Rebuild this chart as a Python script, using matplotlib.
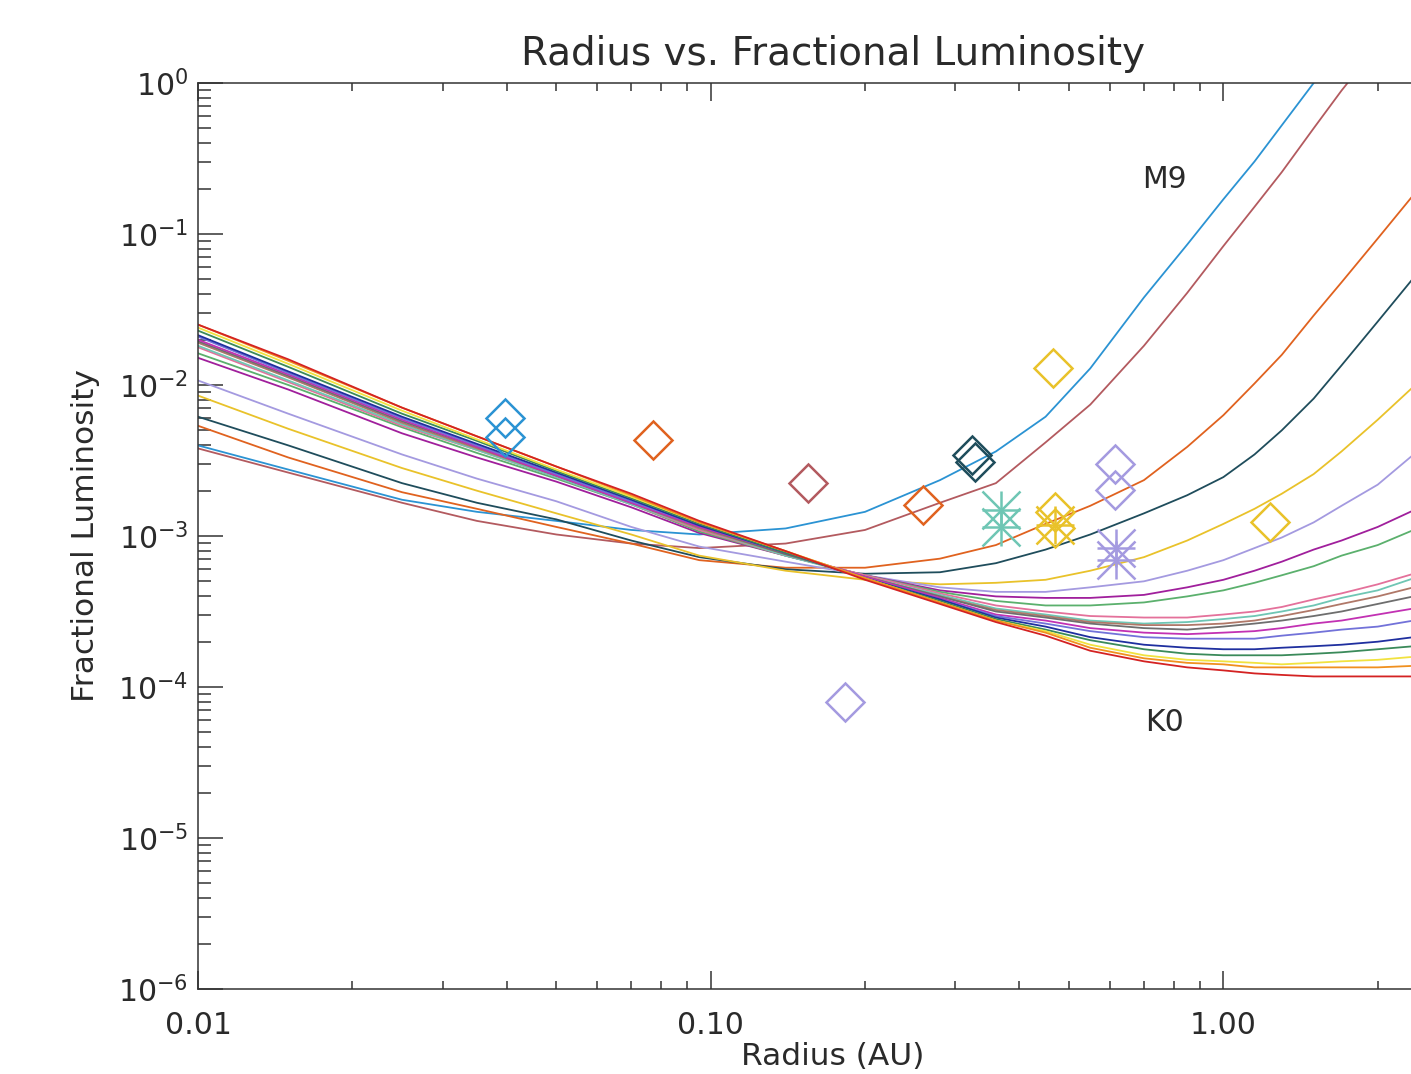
import numpy as np
import matplotlib
matplotlib.use("Agg")
import matplotlib.pyplot as plt
from matplotlib.ticker import LogLocator, FixedLocator, FixedFormatter, NullFormatter

radius = [0.01, 0.015, 0.025, 0.035, 0.05, 0.07, 0.095, 0.14, 0.2, 0.28, 0.36,
          0.45, 0.55, 0.7, 0.85, 1.0, 1.15, 1.3, 1.5, 1.7, 2.0, 2.35]

# log10(fractional luminosity) of each spectral-type curve, M9 (top right) ... K0 (bottom right)
m9_blue = [-2.40, -2.56, -2.76, -2.84, -2.90, -2.96, -2.99, -2.95, -2.84, -2.63, -2.44,
           -2.21, -1.89, -1.42, -1.07, -0.77, -0.52, -0.28, 0.00, 0.26, 0.60, 0.93]
brown = [-2.42, -2.58, -2.78, -2.90, -2.99, -3.05, -3.08, -3.05, -2.96, -2.78, -2.65,
         -2.38, -2.13, -1.74, -1.39, -1.08, -0.82, -0.59, -0.30, -0.05, 0.25, 0.60]
orange = [-2.27, -2.48, -2.71, -2.82, -2.94, -3.05, -3.16, -3.21, -3.21, -3.15, -3.06,
          -2.92, -2.80, -2.63, -2.41, -2.20, -1.99, -1.80, -1.54, -1.32, -1.03, -0.74]
dark_teal = [-2.21, -2.40, -2.65, -2.78, -2.89, -3.03, -3.14, -3.22, -3.25, -3.24, -3.18,
             -3.09, -2.99, -2.85, -2.73, -2.61, -2.46, -2.30, -2.09, -1.87, -1.58, -1.29]
yellow = [-2.07, -2.29, -2.55, -2.70, -2.85, -2.99, -3.13, -3.23, -3.29, -3.32, -3.31,
          -3.29, -3.23, -3.14, -3.03, -2.92, -2.82, -2.72, -2.59, -2.44, -2.23, -2.01]
lavender = [-1.97, -2.19, -2.46, -2.62, -2.77, -2.94, -3.07, -3.17, -3.26, -3.34, -3.37,
            -3.37, -3.34, -3.30, -3.23, -3.16, -3.08, -3.01, -2.91, -2.80, -2.66, -2.46]
purple = [-1.82, -2.03, -2.32, -2.48, -2.64, -2.81, -2.98, -3.13, -3.26, -3.36, -3.40,
          -3.41, -3.41, -3.39, -3.34, -3.29, -3.23, -3.17, -3.09, -3.03, -2.94, -2.83]
green = [-1.79, -2.00, -2.28, -2.45, -2.62, -2.79, -2.97, -3.13, -3.26, -3.37, -3.43,
         -3.46, -3.46, -3.44, -3.40, -3.36, -3.31, -3.26, -3.20, -3.13, -3.06, -2.96]
pink = [-1.75, -1.98, -2.27, -2.43, -2.61, -2.79, -2.96, -3.13, -3.26, -3.38, -3.46,
        -3.50, -3.53, -3.54, -3.54, -3.52, -3.50, -3.47, -3.42, -3.38, -3.32, -3.25]
light_teal = [-1.74, -1.97, -2.26, -2.43, -2.61, -2.79, -2.95, -3.13, -3.27, -3.39, -3.48,
              -3.52, -3.56, -3.58, -3.57, -3.55, -3.53, -3.50, -3.46, -3.41, -3.36, -3.28]
brown2 = [-1.72, -1.95, -2.25, -2.42, -2.60, -2.78, -2.95, -3.12, -3.27, -3.40, -3.49,
          -3.53, -3.57, -3.59, -3.59, -3.58, -3.56, -3.53, -3.49, -3.45, -3.40, -3.34]
gray = [-1.71, -1.94, -2.24, -2.41, -2.60, -2.78, -2.94, -3.12, -3.27, -3.40, -3.50,
        -3.54, -3.58, -3.61, -3.62, -3.60, -3.58, -3.56, -3.53, -3.50, -3.45, -3.40]
magenta = [-1.70, -1.93, -2.23, -2.41, -2.60, -2.78, -2.94, -3.11, -3.27, -3.41, -3.52,
           -3.56, -3.61, -3.64, -3.65, -3.64, -3.63, -3.61, -3.58, -3.56, -3.52, -3.48]
blue_violet = [-1.68, -1.92, -2.22, -2.40, -2.59, -2.77, -2.93, -3.11, -3.28, -3.42, -3.53,
               -3.58, -3.63, -3.67, -3.68, -3.68, -3.68, -3.66, -3.64, -3.62, -3.60, -3.56]
navy = [-1.67, -1.91, -2.21, -2.39, -2.58, -2.76, -2.93, -3.11, -3.28, -3.42, -3.54,
        -3.60, -3.67, -3.72, -3.74, -3.75, -3.75, -3.74, -3.73, -3.72, -3.70, -3.67]
dark_green = [-1.64, -1.88, -2.19, -2.37, -2.57, -2.75, -2.92, -3.11, -3.28, -3.43, -3.55,
              -3.62, -3.69, -3.75, -3.78, -3.79, -3.79, -3.79, -3.78, -3.77, -3.75, -3.73]
yellow2 = [-1.62, -1.86, -2.17, -2.36, -2.56, -2.74, -2.91, -3.10, -3.28, -3.44, -3.56,
           -3.63, -3.72, -3.79, -3.82, -3.83, -3.84, -3.85, -3.84, -3.83, -3.82, -3.80]
orange2 = [-1.60, -1.84, -2.15, -2.34, -2.54, -2.73, -2.91, -3.10, -3.28, -3.44, -3.56,
           -3.64, -3.74, -3.81, -3.84, -3.85, -3.87, -3.87, -3.87, -3.87, -3.87, -3.86]
k0_red = [-1.60, -1.83, -2.15, -2.34, -2.54, -2.72, -2.90, -3.10, -3.29, -3.45, -3.57,
          -3.66, -3.76, -3.83, -3.87, -3.89, -3.91, -3.92, -3.93, -3.93, -3.93, -3.93]

curves = [
    (m9_blue, '#2b93d3'), (brown, '#b35a5f'), (orange, '#e0621f'), (dark_teal, '#1f4d5c'),
    (yellow, '#e9c22a'), (lavender, '#a49ae0'), (purple, '#a01f9c'), (green, '#5bb06d'),
    (pink, '#e4719b'), (light_teal, '#6fc6b4'), (brown2, '#b07868'), (gray, '#6e6e6e'),
    (magenta, '#c231b3'), (blue_violet, '#7272d9'), (navy, '#1f2f9f'), (dark_green, '#3a8a5a'),
    (yellow2, '#f1e23f'), (orange2, '#f0901f'), (k0_red, '#d42222'),
]

# observed systems: diamonds (radius, fractional luminosity, colour)
diamond_r = [0.0397, 0.0397, 0.0771, 0.1545, 0.1824, 0.2597, 0.323, 0.328, 0.465, 0.469, 0.469, 0.614, 0.614, 1.234]
diamond_f = [0.0060, 0.00453, 0.00432, 0.00225, 7.96e-5, 0.0016, 0.00344, 0.00309, 0.0130, 0.00144, 0.00113, 0.0030, 0.00202, 0.00124]
diamond_c = ['#2b93d3', '#2b93d3', '#e0621f', '#b35a5f', '#a49ae0', '#e0621f', '#1f4d5c', '#1f4d5c',
             '#e9c22a', '#e9c22a', '#e9c22a', '#a49ae0', '#a49ae0', '#e9c22a']

# asterisks
star_r = [0.368, 0.368, 0.469, 0.617, 0.617]
star_f = [0.00149, 0.00115, 0.00118, 0.000833, 0.000693]
star_c = ['#6fc6b4', '#6fc6b4', '#e9c22a', '#a49ae0', '#a49ae0']

fig = plt.figure(figsize=(14.11, 10.74), dpi=100)
# the right part of the plot box runs past the edge of the picture, as in the original
ax = fig.add_axes([198 / 1411, 85 / 1074, 1270 / 1411, 906 / 1074])

for vals, col in curves:
    ax.plot(radius, 10 ** np.array(vals), color=col, lw=1.3, zorder=2)

for r, f, c in zip(diamond_r, diamond_f, diamond_c):
    ax.plot(r, f, marker='D', ms=19, mfc='none', mec=c, mew=1.8, ls='none', zorder=3)
for r, f, c in zip(star_r, star_f, star_c):
    ax.plot(r, f, marker='+', ms=27, mec=c, mew=1.8, ls='none', zorder=3)
    ax.plot(r, f, marker='x', ms=27, mec=c, mew=1.8, ls='none', zorder=3)

ax.set_xscale('log')
ax.set_yscale('log')
ax.set_xlim(0.01, 3.0)
ax.set_ylim(1e-6, 1.0)

ax.xaxis.set_major_locator(FixedLocator([0.01, 0.1, 1.0]))
ax.xaxis.set_major_formatter(FixedFormatter(['0.01', '0.10', '1.00']))
ax.xaxis.set_minor_locator(LogLocator(base=10, subs=np.arange(2, 10)))
ax.xaxis.set_minor_formatter(NullFormatter())
ax.yaxis.set_major_locator(LogLocator(base=10, numticks=10))
ax.yaxis.set_minor_locator(LogLocator(base=10, subs=np.arange(2, 10), numticks=20))
ax.yaxis.set_minor_formatter(NullFormatter())

ax.tick_params(which='both', direction='in', top=True, right=True, width=1.1, colors='#333333',
               labelcolor='#2a2a2a', labelsize=21.5)
ax.tick_params(axis='x', which='major', length=13, pad=16)
ax.tick_params(axis='x', which='minor', length=6)
ax.tick_params(axis='y', which='major', length=18, pad=7)
ax.tick_params(axis='y', which='minor', length=9.4)
for s in ax.spines.values():
    s.set_linewidth(1.1)
    s.set_color('#333333')

ax.set_title('Radius vs. Fractional Luminosity', fontsize=28, color='#2a2a2a', pad=13)
ax.set_xlabel('Radius (AU)', fontsize=22.5, color='#2a2a2a')
ax.set_ylabel('Fractional Luminosity', fontsize=22.5, color='#2a2a2a')
ax.xaxis.set_label_coords(0.5, -0.058)
ax.yaxis.set_label_coords(-0.077, 0.5)

ax.text(0.768, 0.228, 'M9', fontsize=21.5, color='#2a2a2a', ha='center', va='center')
ax.text(0.768, 5.86e-5, 'K0', fontsize=21.5, color='#2a2a2a', ha='center', va='center')

fig.savefig('out.png', dpi=100)
